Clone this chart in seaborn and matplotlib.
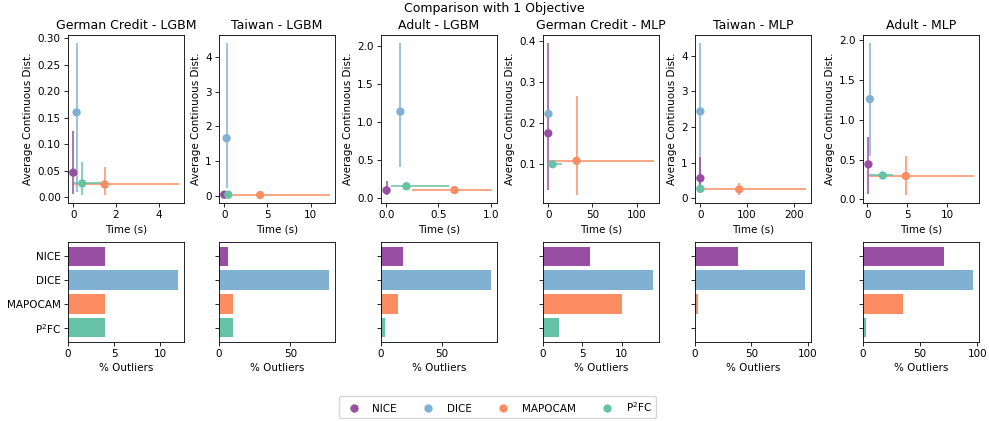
import numpy as np
import pandas as pd
import seaborn as sns
import matplotlib
matplotlib.use("Agg")
import matplotlib.pyplot as plt
from matplotlib.lines import Line2D

# ---------------- data ----------------
methods = ["NICE", "DICE", "MAPOCAM", "P$^2$FC"]
colors = ["#984ea3", "#80b1d3", "#fc8d62", "#66c2a5"]
titles = ["German Credit - LGBM", "Taiwan - LGBM", "Adult - LGBM",
          "German Credit - MLP", "Taiwan - MLP", "Adult - MLP"]

# time (s): mean, lower end, upper end   (order: NICE, DICE, MAPOCAM, P2FC)
time_mean = [[0.00, 0.155, 1.47, 0.42],
             [0.00, 0.27, 4.15, 0.47],
             [0.003, 0.135, 0.653, 0.193],
             [0.0, 0.2, 32.0, 4.9],
             [0.5, 0.5, 83.5, 0.5],
             [0.12, 0.30, 4.8, 1.92]]
time_lo = [[0.00, 0.14, 0.05, 0.05],
           [0.00, 0.22, 0.50, 0.40],
           [0.000, 0.130, 0.248, 0.048],
           [0.0, 0.1, 1.1, 1.0],
           [0.3, 0.3, 3.6, 0.3],
           [0.10, 0.25, 0.2, 0.2]]
time_hi = [[0.02, 0.17, 4.93, 1.30],
           [0.02, 0.32, 12.2, 0.60],
           [0.010, 0.140, 1.010, 0.596],
           [0.3, 0.3, 119.5, 15.0],
           [0.7, 0.7, 226.0, 0.7],
           [0.14, 0.35, 13.3, 3.2]]

# average continuous distance: mean, lower end, upper end
dist_mean = [[0.046, 0.160, 0.0236, 0.0255],
             [0.03, 1.66, 0.02, 0.03],
             [0.106, 1.137, 0.110, 0.159],
             [0.1746, 0.222, 0.1074, 0.099],
             [0.565, 2.44, 0.254, 0.27],
             [0.44, 1.26, 0.293, 0.30]]
dist_lo = [[0.006, 0.010, 0.003, 0.003],
           [0.01, 0.21, 0.01, 0.02],
           [0.040, 0.41, 0.080, 0.150],
           [0.035, 0.215, 0.023, 0.097],
           [0.14, 0.30, 0.085, 0.26],
           [0.07, 0.55, 0.05, 0.29]]
dist_hi = [[0.124, 0.292, 0.057, 0.0666],
           [0.05, 4.42, 0.03, 0.04],
           [0.23, 2.04, 0.140, 0.168],
           [0.396, 0.229, 0.265, 0.101],
           [1.15, 4.37, 0.42, 0.28],
           [0.78, 1.97, 0.54, 0.31]]

# % outliers
outliers = [[4.0, 12.0, 4.0, 4.0],
            [6.0, 77.3, 9.5, 9.5],
            [18.4, 90.5, 14.3, 3.0],
            [6.0, 14.07, 10.04, 2.1],
            [37.9, 97.9, 2.6, 0.0],
            [70.6, 96.8, 34.9, 2.6]]

# ---------------- style ----------------
plt.rcParams.update({
    "font.family": ["DejaVu Sans"],
    "font.size": 7.5,
    "axes.titlesize": 9,
    "axes.labelsize": 7.5,
    "xtick.labelsize": 7.5,
    "ytick.labelsize": 7.5,
    "legend.fontsize": 7.5,
    "axes.linewidth": 0.6,
    "xtick.major.size": 2.6,
    "ytick.major.size": 2.6,
    "xtick.major.width": 0.6,
    "ytick.major.width": 0.6,
    "xtick.major.pad": 2.6,
    "ytick.major.pad": 2.6,
    "axes.titlepad": 4.5,
    "axes.labelpad": 3,
})

W, H = 989, 421
fig = plt.figure(figsize=(W / 100, H / 100), dpi=100)

col_left = [68, 219, 381, 543, 695, 863]
col_w = 116
top_y0, top_y1 = 35, 203
bot_y0, bot_y1 = 242, 342

draw_order = [1, 0, 2, 3]

for i in range(6):
    left = col_left[i] / W
    ax = fig.add_axes([left, (H - top_y1) / H, col_w / W, (top_y1 - top_y0) / H])
    axb = fig.add_axes([left, (H - bot_y1) / H, col_w / W, (bot_y1 - bot_y0) / H])

    tm = np.array(time_mean[i]); tl = np.array(time_lo[i]); th = np.array(time_hi[i])
    dm = np.array(dist_mean[i]); dl = np.array(dist_lo[i]); dh = np.array(dist_hi[i])

    for j in draw_order:
        ax.errorbar(tm[j], dm[j],
                    xerr=[[tm[j] - tl[j]], [th[j] - tm[j]]],
                    yerr=[[dm[j] - dl[j]], [dh[j] - dm[j]]],
                    fmt="none", ecolor=colors[j], elinewidth=1.1, capsize=0, zorder=2)

    df_pts = pd.DataFrame({"time": tm, "dist": dm, "method": methods})
    sns.scatterplot(data=df_pts, x="time", y="dist", hue="method", hue_order=methods,
                    palette=colors, s=36, linewidth=0, legend=False, ax=ax, zorder=3)
    ax.set_title(titles[i])
    ax.set_xlabel("Time (s)")
    ax.set_ylabel("Average Continuous Dist.")

    df_bar = pd.DataFrame({"method": methods, "pct": outliers[i]})
    sns.barplot(data=df_bar, y="method", x="pct", hue="method", hue_order=methods,
                order=methods, palette=colors, saturation=1, orient="h",
                legend=False, ax=axb, width=0.8)
    axb.set_ylim(3.59, -0.59)
    xmax = max(outliers[i]) * 1.05
    axb.set_xlim(0, xmax)
    axb.set_xlabel("% Outliers")
    axb.set_ylabel("")
    if i != 0:
        axb.set_yticklabels([])

fig.suptitle("Comparison with 1 Objective", y=0.995, fontsize=9)

handles = [Line2D([0], [0], marker="o", linestyle="none", markersize=6,
                  markerfacecolor=c, markeredgewidth=0) for c in colors]
fig.legend(handles, methods, loc="center", bbox_to_anchor=(0.503, 0.033), ncol=4,
           frameon=True)

fig.savefig("out.png", dpi=100)
